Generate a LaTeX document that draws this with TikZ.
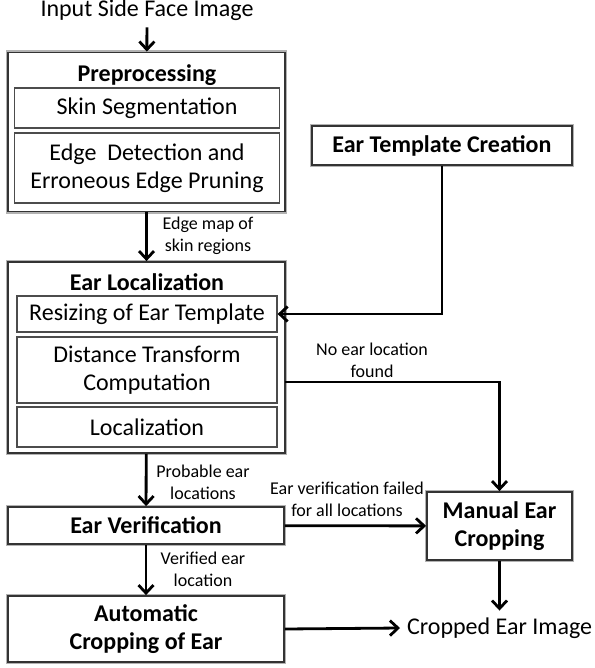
\documentclass[tikz,border=0pt]{standalone}
\usepackage{fontspec}
\setmainfont{Carlito}
\usetikzlibrary{arrows.meta}

\tikzset{
  stage/.style={draw=black!80, line width=0.9pt, fill=white,
    preaction={draw=black!30, line width=2.4pt}},
  substep/.style={draw=black!70, line width=0.6pt, font=\fontsize{12}{14}\selectfont, align=center},
  title/.style={font=\fontsize{12}{14}\selectfont\bfseries, align=center},
  note/.style={font=\fontsize{9}{11}\selectfont, align=center, inner sep=0pt},
  flow/.style={line width=1.4pt, -{Straight Barb[length=4pt,width=7.5pt,line width=1.4pt]}},
}

\begin{document}
\begin{tikzpicture}[x=0.5pt, y=-0.5pt]
      \useasboundingbox (0,0) rectangle (594,668);

      % inputs and outputs
      \node[font=\fontsize{12}{14}\selectfont] (input) at (147,10) {Input Side Face Image};
      \node[font=\fontsize{12}{14}\selectfont, anchor=west] (cropped) at (400,628) {Cropped Ear Image};

      % preprocessing
      \node[stage, minimum width=138.5pt, minimum height=79.5pt] (pre) at (146.5,132) {};
      \node[title] (pretitle) at (147,75) {Preprocessing};
      \node[substep, minimum width=132.5pt, minimum height=20pt] (skin) at (147,108) {Skin Segmentation};
      \node[substep, minimum width=132.5pt, minimum height=35pt] (edge) at (147,168) {Edge~~Detection and\\Erroneous Edge Pruning};

      % template
      \node[stage, title, minimum width=130pt, minimum height=19.5pt] (tmpl) at (442,145.5) {Ear Template Creation};

      % localization
      \node[stage, minimum width=138.5pt, minimum height=95.5pt] (earloc) at (146.5,357.5) {};
      \node[title] (loctitle) at (147,282) {Ear Localization};
      \node[substep, minimum width=130pt, minimum height=18pt] (resize) at (147,314) {Resizing of Ear Template};
      \node[substep, minimum width=130pt, minimum height=33pt] (dist) at (147,370) {Distance Transform\\Computation};
      \node[substep, minimum width=130pt, minimum height=20pt] (local) at (147,427) {Localization};

      % verification and cropping
      \node[stage, title, minimum width=138pt, minimum height=18.5pt] (verif) at (146,525.5) {Ear Verification};
      \node[stage, title, minimum width=138pt, minimum height=33pt] (autocrop) at (146,629) {Automatic\\Cropping of Ear};
      \node[stage, title, minimum width=72.5pt, minimum height=34pt] (manual) at (499.5,526) {Manual Ear\\Cropping};

      % labels on the arrows
      \node[note] (edgemap) at (208,236) {Edge map of\\skin regions};
      \node[note] (noearlbl) at (372,360) {No ear location\\found};
      \node[note] (problbl) at (203,482) {Probable ear\\locations};
      \node[note] (faillbl) at (347,499) {Ear verification failed\\for all locations};
      \node[note] (veriflbl) at (203,569) {Verified ear\\location};

      \coordinate (noear) at (285,382);

      \draw[flow] (input) -- (pre);
      \draw[flow] (pre) -- (earloc);
      \draw[flow] (tmpl.south) |- (resize.east);
      \draw[flow] (noear) -| (manual.north);
      \draw[flow] (earloc) -- (verif);
      \draw[flow] (verif) -- (manual);
      \draw[flow] (verif) -- (autocrop);
      \draw[flow] (manual.south) -- (manual.south |- cropped.north);
      \draw[flow] (autocrop.east) -- (cropped.west);
    \end{tikzpicture}
\end{document}
